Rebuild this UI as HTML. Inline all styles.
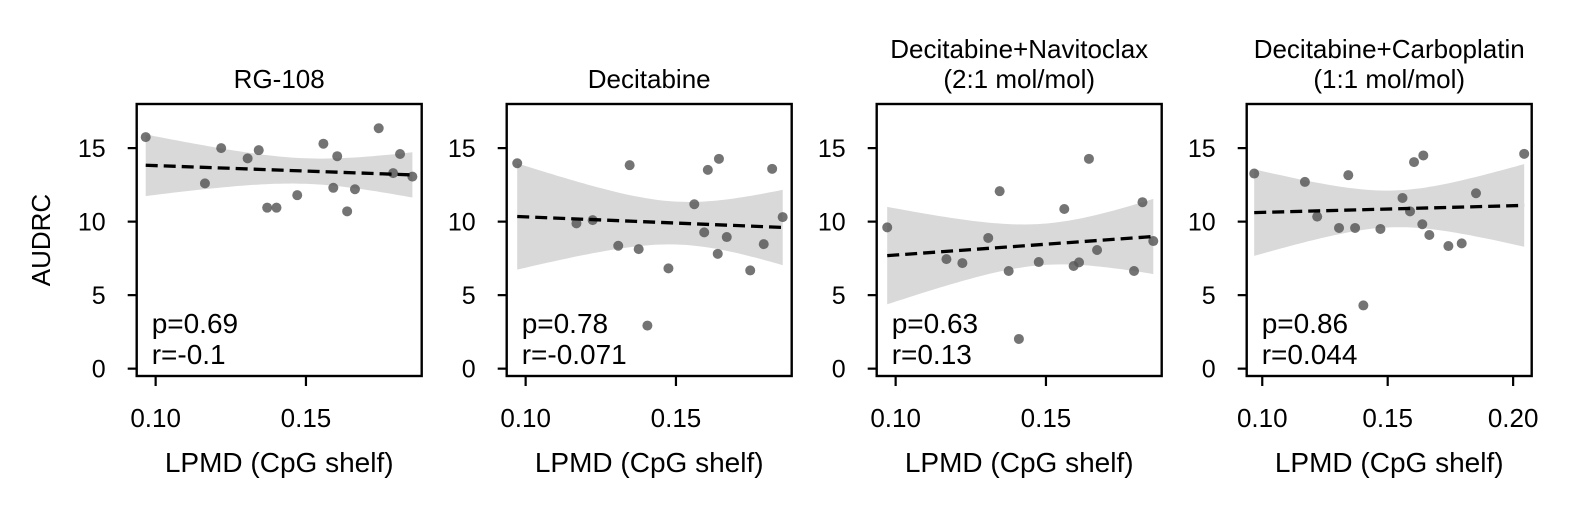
<!DOCTYPE html>
<html><head><meta charset="utf-8">
<style>
html,body{margin:0;padding:0;background:#fff;}
svg{display:block;font-family:"Liberation Sans",Arial,sans-serif;}
</style></head>
<body>
<svg id="fig" width="1571" height="508" viewBox="0 0 1571 508" xmlns="http://www.w3.org/2000/svg">
<text x="50" y="240" font-size="26" text-anchor="middle" transform="rotate(-90 50 240)">AUDRC</text>
</svg>
<script>
const titles = [["RG-108"], ["Decitabine"], ["Decitabine+Navitoclax","(2:1 mol/mol)"], ["Decitabine+Carboplatin","(1:1 mol/mol)"]];
const pTexts = ["p=0.69","p=0.78","p=0.63","p=0.86"];
const rTexts = ["r=-0.1","r=-0.071","r=0.13","r=0.044"];
const yTicks = [0,5,10,15];
const xTicksA = [0.10,0.15];
const xTicksB = [0.10,0.15,0.20];
const x1 = [0.0967,0.1164,0.1218,0.1306,0.1343,0.1371,0.1402,0.1471,0.1558,0.1591,0.1604,0.1637,0.1663,0.1742,0.1790,0.1813,0.1854];
const y1 = [15.75,12.6,15.0,14.3,14.86,10.95,10.95,11.8,15.3,12.3,14.45,10.7,12.2,16.35,13.3,14.6,13.06];
const x2 = [0.0972,0.1169,0.1223,0.1308,0.1346,0.1376,0.1405,0.1475,0.1561,0.1594,0.1606,0.1639,0.1643,0.1669,0.1747,0.1792,0.1820,0.1855];
const y2 = [13.97,9.88,10.1,8.36,13.84,8.13,2.93,6.82,11.18,9.27,13.52,7.81,14.27,8.95,6.68,8.47,13.59,10.31];
const x3 = [0.0972,0.1169,0.1222,0.1308,0.1346,0.1376,0.1410,0.1476,0.1561,0.1592,0.1610,0.1643,0.1670,0.1793,0.1821,0.1857];
const y3 = [9.61,7.45,7.18,8.89,12.07,6.64,2.02,7.25,10.86,6.98,7.23,14.27,8.07,6.64,11.32,8.68];
const x4 = [0.0968,0.1170,0.1219,0.1306,0.1343,0.1370,0.1403,0.1471,0.1559,0.1589,0.1605,0.1638,0.1642,0.1666,0.1742,0.1795,0.1852,0.2044];
const y4 = [13.27,12.70,10.34,9.57,13.16,9.57,4.30,9.50,11.61,10.70,14.05,9.82,14.5,9.09,8.34,8.52,11.93,14.61];
const xsAll = [x1,x2,x3,x4];
const ysAll = [y1,y2,y3,y4];
const xDomains = [[0.0937,0.1885],[0.0937,0.1885],[0.0937,0.1885],[0.0938,0.2074]];
const yDomain = [-0.5,18.0];

const NS="http://www.w3.org/2000/svg";
const svg=document.getElementById('fig');
function mk(tag,attrs,parent){const e=document.createElementNS(NS,tag);for(const k in attrs)e.setAttribute(k,attrs[k]);(parent||svg).appendChild(e);return e;}
const lefts=[136.7,506.7,876.7,1246.7];
const W=285, TOP=104, BOT=376;
for(let p=0;p<4;p++){
  const L=lefts[p], xs=xsAll[p], ys=ysAll[p], xd=xDomains[p];
  const sx=v=>L+(v-xd[0])/(xd[1]-xd[0])*W;
  const sy=v=>BOT-(v-yDomain[0])/(yDomain[1]-yDomain[0])*(BOT-TOP);
  const g=mk('g',{});
  
  
  const n=xs.length; let mx=0,my=0; for(let i=0;i<n;i++){mx+=xs[i];my+=ys[i];} mx/=n; my/=n;
  let sxx=0,sxy=0; for(let i=0;i<n;i++){sxx+=(xs[i]-mx)**2;sxy+=(xs[i]-mx)*(ys[i]-my);}
  const b=sxy/sxx, a=my-b*mx; let sse=0; for(let i=0;i<n;i++){sse+=(ys[i]-a-b*xs[i])**2;}
  const s=Math.sqrt(sse/(n-2)), t=1.95;
  const xmin=Math.min(...xs), xmax=Math.max(...xs);
  const up=[],lo=[];
  for(let k=0;k<=60;k++){const xv=xmin+(xmax-xmin)*k/60;const yh=a+b*xv;const h=t*s*Math.sqrt(1/n+(xv-mx)**2/sxx);
    up.push(sx(xv).toFixed(1)+','+sy(yh+h).toFixed(1));lo.unshift(sx(xv).toFixed(1)+','+sy(yh-h).toFixed(1));}
  const band=mk('polygon',{points:up.concat(lo).join(' '),fill:'#d9d9d9'},g);
  
  
  for(let i=0;i<n;i++){
    const c=mk('circle',{cx:sx(xs[i]),cy:sy(ys[i]),r:5,fill:'#555',opacity:0.82},g);
    
    
  }
  const ln=mk('line',{x1:sx(xmin),y1:sy(a+b*xmin),x2:sx(xmax),y2:sy(a+b*xmax),stroke:'#000','stroke-width':3.3,'stroke-dasharray':'12,6'},g);
  
  
  const fr=mk('rect',{x:L,y:TOP,width:W,height:BOT-TOP,fill:'none',stroke:'#000','stroke-width':2.4},g);
  
  
  yTicks.forEach(v=>{
    mk('line',{x1:L-9,x2:L,y1:sy(v),y2:sy(v),stroke:'#000','stroke-width':2.2},g);
    const tx=mk('text',{x:L-31,y:sy(v)+9,'font-size':25,'text-anchor':'end'},g);
    tx.textContent=String(v);
    
    
  });
  const xt = p===3 ? xTicksB : xTicksA;
  xt.forEach(v=>{
    mk('line',{x1:sx(v),x2:sx(v),y1:BOT,y2:BOT+10,stroke:'#000','stroke-width':2.2},g);
    const tx=mk('text',{x:sx(v),y:427,'font-size':26,'text-anchor':'middle'},g);
    tx.textContent=v.toFixed(2);
    
    
  });
  const xl=mk('text',{x:L+W/2,y:472,'font-size':28,'text-anchor':'middle'},g);
  xl.textContent='LPMD (CpG shelf)';
  
  
  const tl=titles[p];
  tl.forEach((line,i)=>{
    const tt=mk('text',{x:L+W/2,y:88-(tl.length-1-i)*30,'font-size':26,'text-anchor':'middle'},g);
    tt.textContent=line;
    
    
  });
  const pt=mk('text',{x:L+15,y:333,'font-size':28},g);
  pt.textContent=pTexts[p];
  
  
  const rt=mk('text',{x:L+15,y:364,'font-size':28},g);
  rt.textContent=rTexts[p];
  
  
}
</script>
</body></html>
